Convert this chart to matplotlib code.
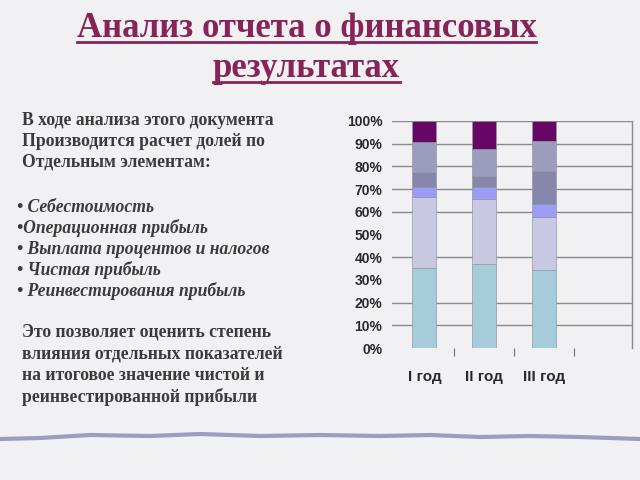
import matplotlib
matplotlib.use("Agg")
import matplotlib.pyplot as plt
from matplotlib.lines import Line2D
import numpy as np

# ---- data ----
categories = ["I год", "II год", "III год", ""]
series_names = ["Себестоимость", "Операционная прибыль", "Выплата процентов и налогов",
                "Чистая прибыль", "Реинвестирования прибыль", "Прочее"]
s1 = [35.3, 37.1, 34.3]
s2 = [31.0, 28.4, 23.5]
s3 = [4.8, 5.6, 5.5]
s4 = [6.3, 4.7, 14.6]
s5 = [13.5, 11.9, 13.4]
s6 = [9.1, 12.3, 8.7]
series = [s1, s2, s3, s4, s5, s6]
colors = ["#a6cbd9", "#c8c8e2", "#9c9cf6", "#8787ab", "#9c9cbd", "#660766"]
yticks = [0, 10, 20, 30, 40, 50, 60, 70, 80, 90, 100]
ytick_labels = ["%d%%" % v for v in yticks]

title_lines = ["Анализ отчета о финансовых", "результатах"]
intro_lines = ["В ходе анализа этого документа", "Производится расчет долей по", "Отдельным элементам:"]
bullet_lines = ["• Себестоимость", "•Операционная прибыль", "• Выплата процентов и налогов",
                "• Чистая прибыль", "• Реинвестирования прибыль"]
outro_lines = ["Это позволяет оценить степень", "влияния отдельных показателей",
               "на итоговое значение чистой и", "реинвестированной прибыли"]

BG = "#f1f1f3"
fig = plt.figure(figsize=(6.4, 4.8), dpi=100, facecolor=BG)

# ---- chart ----
ax = fig.add_axes([392/640, 1-348/480, 240/640, 227/480])
ax.set_facecolor("none")
x = np.arange(3)
bottom = np.zeros(3)
for vals, c in zip(series, colors):
    ax.bar(x, vals, width=0.4, bottom=bottom, color=c, edgecolor="#8d9aa8",
           linewidth=0.5, zorder=3)
    bottom += np.array(vals)

ax.set_xlim(-0.54, 3.46)
ax.set_ylim(0, 100)
ax.set_yticks(yticks)
ax.set_yticklabels(ytick_labels)
ax.yaxis.grid(True, color="#8a8a8a", linewidth=1.0, zorder=0)
for v, gl in zip(yticks, ax.get_ygridlines()):
    if v in (0, 30, 50):
        gl.set_visible(False)
ax.tick_params(axis="y", length=0, pad=7)
ax.set_xticks(np.arange(3))
ax.set_xticklabels(categories[:3])
ax.set_xticks([0.5, 1.5, 2.5], minor=True)
ax.tick_params(axis="x", which="major", length=0, pad=16)
ax.tick_params(axis="x", which="minor", length=6, width=0.8, color="#707070", direction="out")
for side in ["left", "top", "bottom"]:
    ax.spines[side].set_visible(False)
ax.spines["right"].set_color("#8a8a8a")
ax.spines["right"].set_linewidth(1.0)

for lab in ax.get_yticklabels():
    lab.set_fontfamily("Liberation Sans")
    lab.set_fontsize(10)
    lab.set_fontweight("bold")
    lab.set_color("#2a2a2a")
for lab in ax.get_xticklabels():
    lab.set_fontfamily("Liberation Sans")
    lab.set_fontsize(11)
    lab.set_fontweight("bold")
    lab.set_color("#2a2a2a")

# ---- title with underline ----
title_color = "#862458"
renderer = fig.canvas.get_renderer()
for i, (line, yb) in enumerate(zip(title_lines, [37, 77])):
    t = fig.text(0.479, 1 - yb/480, line, ha="center", va="baseline",
                 fontsize=25, fontweight="bold", family="Liberation Serif",
                 color=title_color)
    bb = t.get_window_extent(renderer)
    yu = 1 - (yb + 5)/480
    fig.add_artist(Line2D([bb.x0/640, bb.x1/640], [yu, yu], color=title_color,
                          linewidth=2.0, transform=fig.transFigure))

# ---- left text ----
txt_color = "#3b3b3b"
FS = 12.7
for i, line in enumerate(intro_lines):
    fig.text(22/640, 1 - (125 + 21*i)/480, line, ha="left", va="baseline",
             fontsize=FS, fontweight="bold", family="Liberation Serif", color=txt_color)
for i, line in enumerate(bullet_lines):
    fig.text(17/640, 1 - (212 + 21*i)/480, line, ha="left", va="baseline",
             fontsize=FS, fontweight="bold", fontstyle="italic",
             family="Liberation Serif", color=txt_color)
for i, line in enumerate(outro_lines):
    fig.text(22/640, 1 - (336 + 22*i)/480, line, ha="left", va="baseline",
             fontsize=FS, fontweight="bold", family="Liberation Serif", color=txt_color)

# ---- decorative wavy rule ----
wx = np.array([0, 40, 90, 150, 200, 260, 320, 380, 430, 480, 530, 580, 640]) / 640
wy = 1 - np.array([439, 438, 435, 436, 434, 436, 435, 436, 435, 437, 436, 437, 439]) / 480
fig.add_artist(Line2D(wx, wy, color="#9c9cc0", linewidth=3.0, solid_capstyle="round",
                      transform=fig.transFigure))

fig.savefig("out.png", dpi=100, facecolor=BG)
